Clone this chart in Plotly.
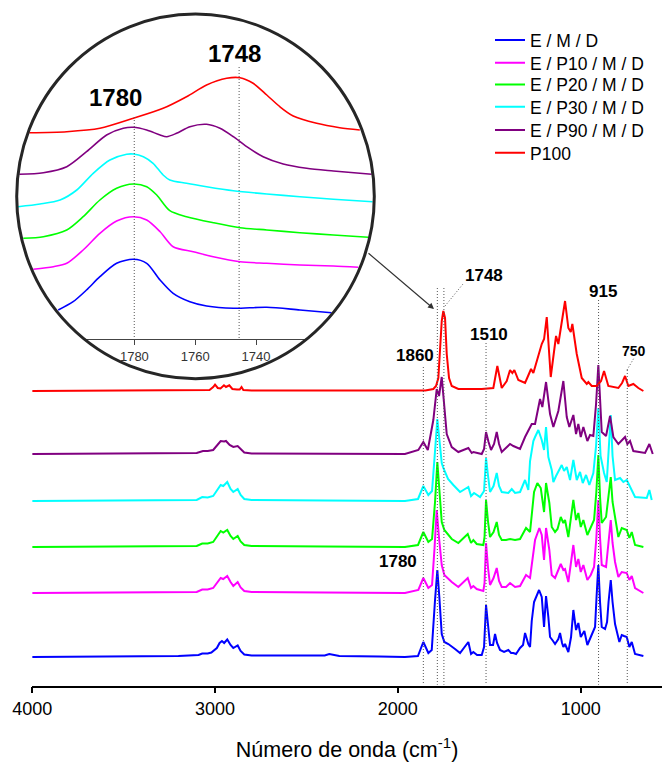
import plotly.graph_objects as go

W, H = 662, 762
FONT = "Liberation Sans, Arial, sans-serif"

series_names = ["E / M / D", "E / P10 / M / D", "E / P20 / M / D",
                "E / P30 / M / D", "E / P90 / M / D", "P100"]
series_colors = ["#0000FF", "#FF00FF", "#00FF00", "#00FFFF", "#800080", "#FF0000"]

# ---- main spectra: (wavenumber cm-1, relative absorbance) ----
blue_pts = [(4000,0),(3500,0.5),(3200,1),(3090,2),(3070,3.5),(3040,3.5),(3020,4.5),(2990,9),(2975,14),(2962,16),(2950,14),(2933,17.5),(2915,12),(2900,9),(2888,10),(2876,11.5),(2860,6),(2840,2.5),(2800,1.5),(2500,1.5),(2400,1.5),(2375,3),(2350,2),(2320,1),(2100,0.5),(1961,0),(1890,1),(1860.5,15),(1833,4),(1814.5,7),(1796.5,57),(1783.9,87),(1773,60),(1759.8,23),(1745.6,15),(1723.7,13),(1687.1,8),(1659.7,4),(1614.3,15),(1599.5,3),(1586.9,5),(1566.7,2),(1541,2),(1528.4,10),(1517.5,52),(1506.5,30),(1495.6,12),(1479.2,12),(1468.2,23),(1457.3,14),(1440.9,7),(1419,5),(1395.5,7),(1380.7,4),(1368.1,4),(1353.4,3),(1331.5,9),(1315.1,12),(1304.1,24),(1286.1,13),(1276.8,10),(1267.5,36),(1254.9,55),(1227.5,67),(1212.8,60),(1200.2,30),(1189.3,61),(1176.7,40),(1167.4,20),(1151,16),(1140,13),(1122,18),(1112.7,24),(1101.7,14),(1094.6,10),(1085.3,13),(1076,8),(1067.3,5),(1052.5,20),(1039.9,47),(1025.2,27),(1012.6,34),(999.4,20),(979.8,26),(963.3,12),(943.1,20),(921.2,30),(913,60),(903.2,92),(893.9,55),(884.6,30),(866.5,28),(855.6,35),(847.4,55),(835.3,77),(825.5,55),(811.8,33),(788.2,15),(775.1,22),(762.6,21),(747.8,20),(733.6,10),(720.4,15),(702.4,3),(656.9,1)]

magenta_pts = [(4000,0),(3500,0.5),(3100,1),(3070,3.5),(3040,3.5),(3010,5),(2990,10),(2969,15),(2955,14),(2933,17),(2915,11),(2900,7),(2876,11),(2860,5.5),(2840,2),(2800,1),(2400,0.5),(1961,0),(1887.8,3),(1860.5,15),(1833.1,5),(1812.9,8),(1799.2,45),(1787.2,83),(1774.6,55),(1759.8,28),(1745.6,18),(1705.1,11),(1669,6),(1617.6,15),(1599.5,5),(1586.9,7),(1568.4,4),(1532.3,2),(1525.7,10),(1517.5,50),(1506.5,25),(1495.6,8),(1476.5,15),(1459,25),(1446.4,12),(1431.6,6),(1408.1,6),(1386.2,10),(1358.8,6),(1331.5,7),(1298.7,18),(1276.8,15),(1249.4,53),(1225.9,65),(1212.8,58),(1200.2,33),(1189.3,65),(1171.2,43),(1158.1,18),(1140,15),(1108.8,29),(1094.6,23),(1085.3,24),(1067.3,11),(1039.9,48),(1025.2,26),(1012.6,34),(999.4,21),(985.2,28),(963.3,13),(944.7,18),(926.7,26),(914.1,55),(903.2,93),(893.9,55),(884.6,28),(861.1,26),(847.4,50),(835.3,73),(825.5,50),(811.8,31),(793.7,16),(775.1,21),(747.8,20),(733.6,13),(720.4,17),(702.4,5),(656.9,0)]

green_pts = [(4000,0),(3500,0.5),(3100,1),(3070,3.5),(3040,3.5),(3010,5),(2990,10),(2969,16),(2955,14.5),(2933,17),(2915,11),(2900,8),(2876,11),(2860,5.5),(2840,2),(2800,1),(2400,0.5),(1961,0),(1889.5,2),(1860.5,15),(1833.1,5),(1812.9,8),(1796.5,45),(1783.9,85),(1771.9,55),(1759.8,25),(1745.6,17),(1705.1,8),(1669,4),(1617.6,13),(1599.5,4),(1586.9,7),(1568.4,3),(1532.3,2),(1525.7,10),(1517.5,47),(1506.5,25),(1495.6,10),(1476.5,15),(1459,25),(1446.4,12),(1431.6,7),(1408.1,7),(1386.2,8),(1358.8,7),(1331.5,8),(1298.7,19),(1276.8,15),(1254.9,55),(1236.8,64),(1218.2,59),(1200.2,35),(1189.3,64),(1171.2,44),(1158.1,20),(1140,15),(1126.4,18),(1108.8,30),(1094.6,24),(1085.3,27),(1067.3,10),(1039.9,47),(1025.2,27),(1012.6,34),(999.4,20),(985.2,27),(963.3,12),(944.7,19),(926.7,27),(914.1,55),(903.2,92),(893.9,50),(884.6,24),(861.1,30),(847.4,50),(835.3,70),(825.5,45),(811.8,29),(793.7,10),(775.1,19),(747.8,17),(733.6,9),(720.4,15),(702.4,2),(656.9,0)]

cyan_pts = [(4000,0),(3500,0.5),(3100,1),(3070,4),(3040,3.5),(3010,5),(2990,10),(2969,16),(2955,15),(2933,19),(2915,12),(2900,9),(2876,12),(2860,6),(2840,2),(2800,1),(2400,0.5),(1961,0),(1889.5,2),(1860.5,15),(1833.1,6),(1812.9,10),(1796.5,50),(1783.9,82),(1771.9,60),(1759.8,38),(1751.1,33),(1725.4,22),(1696.4,16),(1659.7,9),(1614.3,14),(1599.5,5),(1583.1,8),(1550.3,4),(1528.4,10),(1517.5,43),(1506.5,25),(1495.6,9),(1476.5,15),(1459,28),(1446.4,15),(1431.6,9),(1395.5,8),(1376.9,12),(1358.8,8),(1331.5,9),(1304.1,21),(1286.1,11),(1276.8,40),(1258.7,60),(1249.4,64),(1231.4,71),(1212.8,61),(1200.2,51),(1189.3,74),(1176.7,44),(1158.1,31),(1149.3,19),(1134.6,25),(1103.4,36),(1090.8,30),(1076,34),(1058,21),(1039.9,41),(1021.3,21),(1003.3,29),(988.5,18),(970.5,26),(952.4,16),(930.5,28),(915.7,55),(903.2,93),(891.1,45),(872,28),(857.2,19),(847.4,50),(835.3,86),(825.5,45),(811.8,21),(784.4,23),(766.3,19),(747.8,21),(729.8,14),(702.4,4),(638.4,3),(624.2,11),(611.1,1)]

purple_pts = [(4000,0),(3500,0.5),(3100,1),(3066,3),(3040,3),(3010,4),(2990,8),(2969,13),(2950,12.5),(2940,13),(2920,9),(2900,7),(2876,8),(2860,5),(2840,1.5),(2800,0.5),(2400,0.3),(1961,0),(1887.8,4),(1860.5,12),(1836,4),(1805.8,34),(1787.2,65),(1774.6,58),(1759.8,77),(1745.6,50),(1732.5,20),(1705.1,7),(1669,2),(1614.3,6),(1595.7,1),(1586.9,2),(1541,0),(1528.4,5),(1517.5,22),(1503.8,12),(1490.1,4),(1473.7,10),(1459,22),(1446.4,10),(1431.6,2),(1386.2,10),(1368.1,8),(1331.5,5),(1304.1,17),(1267.5,30),(1249.4,30),(1222.1,55),(1209.5,47),(1189.3,72),(1167.4,40),(1149.3,27),(1122,43),(1094.6,73),(1076,37),(1061.8,27),(1039.9,39),(1025.2,20),(1012.6,30),(999.4,17),(985.2,27),(963.3,13),(948.6,19),(930.5,18),(915.7,50),(903.2,89),(893.9,50),(884.6,22),(861.1,18),(850.1,28),(839.2,38),(821.1,17),(793.7,10),(757.1,17),(744.5,10),(729.8,13),(711.7,3),(647.6,1),(624.2,10),(605.6,0)]

red_pts = [(4000,0),(3500,0.5),(3100,0.5),(3030,1),(3010,4),(3000,6.3),(2985,3),(2970,2.5),(2951,5.7),(2940,4),(2922,5.7),(2905,2),(2880,1.5),(2865,1.5),(2855,4),(2845,1),(2800,0.5),(2400,0.5),(1961,0),(1850,0.5),(1805.8,2),(1791,5),(1778.4,13),(1769.1,43),(1759.8,70),(1751.1,80),(1741.8,73),(1732.5,37),(1719.9,13),(1705.1,5),(1669,2),(1541,2),(1477.6,3),(1455.7,25),(1431.6,3),(1404.3,10),(1386.2,21),(1373.6,18),(1362.7,21),(1340.8,11),(1304.1,8),(1287.7,15),(1271.3,22),(1258.7,18),(1231.4,37),(1212.8,47),(1200,52),(1185.4,74),(1163.6,14),(1145.5,37),(1134.6,55),(1122,47),(1085.3,90),(1067.3,63),(1054.1,59),(1045.4,67),(1021.3,37),(994,13),(966.6,7),(957.8,9),(939.3,5),(911.9,5),(888.4,10),(872,20),(848.5,5),(793.7,3),(773.5,8),(757.1,15),(739.1,5),(711.7,7),(684.3,3),(656.9,0)]

main_series = [blue_pts, magenta_pts, green_pts, cyan_pts, purple_pts, red_pts]
main_offsets = [28.7, 92.7, 138.7, 184.7, 231.7, 294.7]

# ---- inset (1700-1820 cm-1), clipped by the magnifier circle ----
inset_blue = [(1805,0),(1800.1,8.3),(1795.7,20),(1791.3,33.3),(1785.8,46.7),(1780.3,50.7),(1775.9,46.7),(1771.5,30),(1767.2,16.7),(1761.7,8.3),(1756.2,4),(1747.4,1.7),(1736.4,2.7),(1725.5,0),(1715.1,-2.7)]
inset_magenta = [(1813.2,0),(1806.6,2.6),(1802.2,6),(1796.8,19.3),(1791.3,36),(1785.8,48.3),(1780.3,52.6),(1775.9,49.3),(1771.5,37.6),(1767.2,22.6),(1760.6,17.6),(1754,12.6),(1745.2,7.6),(1736.4,6),(1725.5,4.3),(1714.5,3.3),(1706.3,2)]
inset_green = [(1816.5,0),(1809.9,1.6),(1802.2,8.3),(1796.8,21.6),(1791.3,38.3),(1785.8,50),(1780.3,54.3),(1775.9,51.6),(1772.6,43.3),(1768.3,27.6),(1762.8,21.6),(1754,15.6),(1745.2,10.6),(1736.4,8.3),(1725.5,5.6),(1714.5,3.3),(1703,1)]
inset_cyan = [(1818.2,0),(1811,2.7),(1804.4,6.7),(1798.9,16.7),(1793.5,33.4),(1788,46.7),(1782.5,52.4),(1780.3,52.7),(1777,50),(1773.8,43.4),(1770.5,31.7),(1768.3,26.7),(1762.8,23.4),(1756.2,20),(1747.4,16),(1736.4,12.7),(1725.5,10),(1714.5,7.4),(1701.6,5)]
inset_purple = [(1817.8,0),(1809.9,1.6),(1802.2,7.6),(1795.7,22.6),(1789.1,39.3),(1783.6,46),(1780.3,47),(1775.9,44.3),(1771.5,39.3),(1769.3,37.6),(1766.1,41),(1761.7,47.6),(1756.2,50),(1751.8,46),(1747.4,37.6),(1743,27.6),(1737.6,17.6),(1731,10.3),(1723.3,6),(1714.5,3.3),(1701.9,0)]
inset_red = [(1814.5,0),(1802.2,1),(1791.3,4.4),(1780.3,14.4),(1770.5,24.4),(1762.8,36),(1756.2,47.7),(1749.6,54.4),(1745.2,55),(1740.9,49.4),(1736.4,37.7),(1732.1,26),(1727.7,16.7),(1720,9.4),(1712.4,5),(1705.8,2.7)]

inset_series = [inset_blue, inset_magenta, inset_green, inset_cyan, inset_purple, inset_red]
inset_offsets = [68, 108.7, 139.7, 171.3, 203.7, 245.3]

main_ticks = [4000, 3000, 2000, 1000]
inset_ticks = [1780, 1760, 1740]

# peak markers: label text, wavenumber where the dotted line is drawn
peak_text = ["1860", "1780", "1748", "1510", "915", "750"]
peak_line_wn = [1860.5, 1783.9, 1748, 1517.5, 902, 745]
inset_peak_text = ["1780", "1748"]
inset_peak_wn = [1780, 1745.5]

# ---------------- figure ----------------
def px(x):
    return x / W

def py(y):
    return 1 - y / H

fig = go.Figure()

legend_ids = ["legend", "legend2", "legend3", "legend4", "legend5", "legend6"]
legend_rows = [41.7, 64.3, 86, 108.3, 131.7, 154.3]

for name, color, pts, off, lid in zip(series_names, series_colors, main_series, main_offsets, legend_ids):
    fig.add_trace(go.Scatter(
        x=[p[0] for p in pts], y=[p[1] + off for p in pts],
        mode="lines", name=name, line=dict(color=color, width=2),
        xaxis="x", yaxis="y", legend=lid))

for color, pts, off in zip(series_colors, inset_series, inset_offsets):
    fig.add_trace(go.Scatter(
        x=[p[0] for p in pts], y=[p[1] + off for p in pts],
        mode="lines", showlegend=False,
        line=dict(color=color, width=1.6, shape="spline", smoothing=0.8),
        xaxis="x2", yaxis="y2", hoverinfo="skip"))

# carrier for the inset axis line
fig.add_trace(go.Scatter(x=[], y=[], xaxis="x3", yaxis="y3", showlegend=False, hoverinfo="skip"))

AXIS_Y = 685.7
DOT = dict(color="#555555", width=1, dash="1px,2px")
shapes = []
line_tops = [367, 288, 288, 343, 300, 370]
for wn, top in zip(peak_line_wn, line_tops):
    shapes.append(dict(type="line", xref="x", yref="paper", x0=wn, x1=wn,
                       y0=py(top), y1=py(AXIS_Y - 1), line=DOT))
# leader lines
shapes.append(dict(type="line", xref="paper", yref="paper", x0=px(445), y0=py(306),
                   x1=px(463), y1=py(284), line=DOT))
shapes.append(dict(type="line", xref="paper", yref="paper", x0=px(627), y0=py(370),
                   x1=px(634), y1=py(358), line=DOT))
# inset dotted lines
for wn, top in zip(inset_peak_wn, [117, 67]):
    shapes.append(dict(type="line", xref="x2", yref="paper", x0=wn, x1=wn,
                       y0=py(top), y1=py(339), line=DOT))
# magnifier circle
shapes.append(dict(type="circle", xref="paper", yref="paper",
                   x0=px(16.7), x1=px(374.3), y0=py(378.7), y1=py(14),
                   line=dict(color="#262626", width=3), layer="above"))

bold = dict(family=FONT, color="black")
label_pos = [(415, 355, 17), (397.5, 561.5, 17), (484, 275.5, 17),
             (489, 335, 17), (602.5, 291.5, 17), (633.5, 350.5, 14)]
annotations = []
for t, (lx, ly, fs) in zip(peak_text, label_pos):
    annotations.append(dict(text="<b>%s</b>" % t, x=px(lx), y=py(ly), font=dict(size=fs, **bold)))
for t, (lx, ly) in zip(inset_peak_text, [(115, 97.5), (234, 54)]):
    annotations.append(dict(text="<b>%s</b>" % t, x=px(lx), y=py(ly), font=dict(size=24, **bold)))
for a in annotations:
    a.update(xref="paper", yref="paper", showarrow=False, xanchor="center", yanchor="middle")
annotations.append(dict(text="", xref="paper", yref="paper", x=px(434), y=py(309),
                        ax=-67, ay=-57, showarrow=True, arrowhead=2, arrowsize=1,
                        arrowwidth=1.2, arrowcolor="#333333"))

layout = dict(
    width=W, height=H,
    margin=dict(l=0, r=0, t=0, b=0),
    paper_bgcolor="white", plot_bgcolor="rgba(0,0,0,0)",
    font=dict(family=FONT, color="black"),
    showlegend=True,
    xaxis=dict(domain=[px(32.2), 1], range=[4000, 555], anchor="y",
               tickvals=main_ticks, ticks="outside", ticklen=6, tickwidth=1.5,
               tickcolor="black", showline=True, linecolor="black", linewidth=1.5,
               showgrid=False, zeroline=False, automargin=False,
               tickfont=dict(size=18, family=FONT, color="black"),
               title=dict(text="Número de onda (cm<sup>-1</sup>)", standoff=27,
                          font=dict(size=21.5, family=FONT, color="black"))),
    yaxis=dict(domain=[py(AXIS_Y), 1], range=[0, AXIS_Y], visible=False,
               anchor="x", automargin=False),
    xaxis2=dict(domain=[px(16), px(375)], range=[1818.9, 1700.8], anchor="y2",
                visible=False, automargin=False),
    yaxis2=dict(domain=[py(378), py(13)], range=[0, 365], anchor="x2",
                visible=False, automargin=False),
    xaxis3=dict(domain=[px(84.5), px(306.5)], range=[1796.4, 1723.4], anchor="y3",
                tickvals=inset_ticks, ticks="outside", ticklen=5, tickwidth=1,
                tickcolor="#444444", showline=True, linecolor="#444444", linewidth=1,
                showgrid=False, zeroline=False, automargin=False,
                tickfont=dict(size=13, family=FONT, color="#333333")),
    yaxis3=dict(domain=[py(339), py(329)], range=[0, 1], anchor="x3",
                visible=False, automargin=False),
    shapes=shapes,
    annotations=annotations,
)
for lid, row in zip(legend_ids, legend_rows):
    layout[lid] = dict(x=px(490), y=py(row - 19.5), xanchor="left", yanchor="top",
                       font=dict(size=17.5, family=FONT, color="black"),
                       bgcolor="rgba(0,0,0,0)", borderwidth=0)

fig.update_layout(**layout)
fig.write_html("out.html")
